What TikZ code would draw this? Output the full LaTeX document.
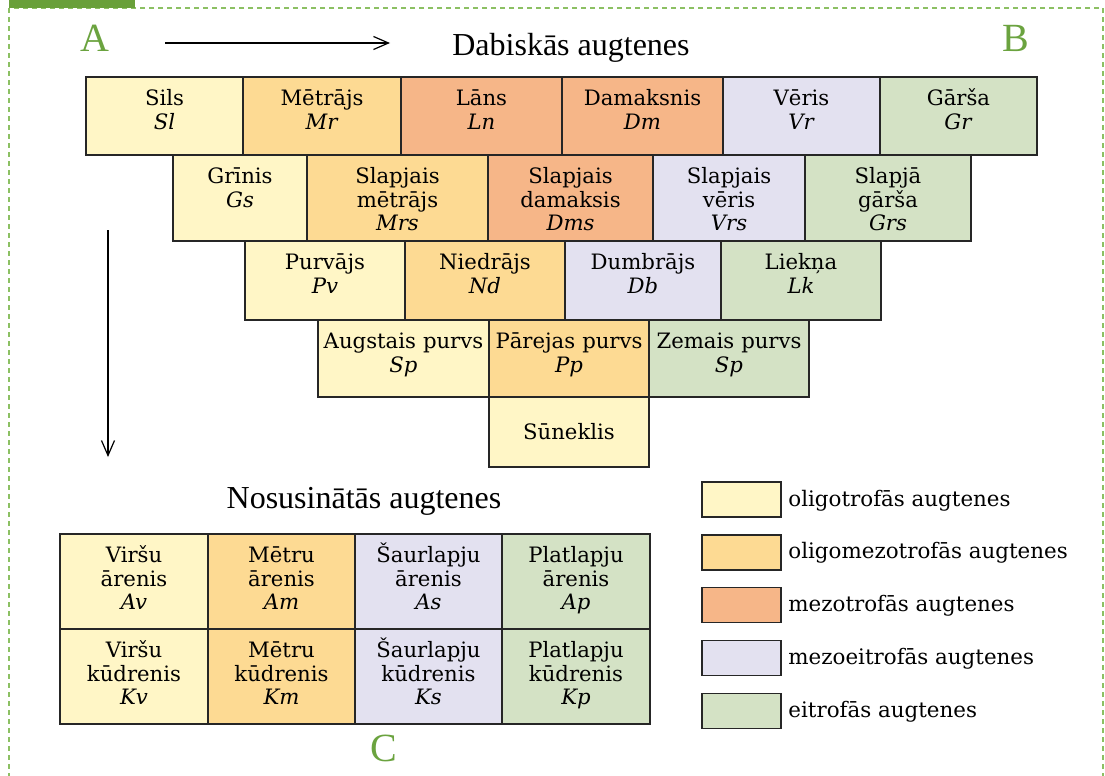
\documentclass[tikz,border=0pt]{standalone}
\usepackage{fontspec}
\setmainfont{DejaVu Serif}
\newfontfamily\titlefont{Liberation Serif}
\usetikzlibrary{positioning,fit,arrows.meta}

\definecolor{oligo}{HTML}{FFF6C6}
\definecolor{oligomezo}{HTML}{FDDA93}
\definecolor{mezo}{HTML}{F6B688}
\definecolor{mezoeu}{HTML}{E3E1F0}
\definecolor{eu}{HTML}{D4E2C5}
\definecolor{lettergreen}{HTML}{6BA33F}
\definecolor{framegreen}{HTML}{8CC063}
\definecolor{tabgreen}{HTML}{69A03A}

\tikzset{
  cell/.style={draw=black!85, line width=0.7pt, fill=#1, inner sep=0pt, outer sep=0pt},
  celltext/.style={anchor=north, inner sep=0pt, text height=0pt, text width=86pt, align=center,
    font=\fontsize{10.6}{11.75}\selectfont, yshift=-14.25pt},
  legtext/.style={anchor=base west, inner sep=0pt, font=\fontsize{10.7}{11.75}\selectfont},
  titletext/.style={anchor=base, inner sep=0pt, font=\titlefont\fontsize{16}{18}\selectfont},
  letter/.style={anchor=base, inner sep=0pt, text=lettergreen, font=\titlefont\fontsize{20}{22}\selectfont},
  flow/.style={line width=0.6pt, -{Straight Barb[length=7.5pt,width=6.5pt]}},
  frame/.style={draw=framegreen, line width=0.7pt, dash pattern=on 2.5pt off 2pt}
}

\begin{document}
\begin{tikzpicture}[x=0.5pt,y=-0.5pt]
    \useasboundingbox (0,0) rectangle (1105,776);
    % frame
    \draw[frame] (9,8) rectangle (1103,800);
    \fill[tabgreen] (9,0) rectangle (135,8);

    % letters and arrows
    \node[letter] (A) at (95,52) {A};
    \node[letter] (B) at (1016,52) {B};
    \node[letter] (C) at (384,761) {C};
    \coordinate (r0) at (165,43);
    \coordinate (r1) at (390,43);
    \draw[flow] (r0) -- (r1);
    \coordinate (d0) at (108,230);
    \coordinate (d1) at (108,457);
    \draw[flow] (d0) -- (d1);

    \node[titletext] (dab) at (571,55) {Dabiskās augtenes};
    \node[titletext] (nos) at (364,508) {Nosusinātās augtenes};

    % natural sites, row 1
    \foreach \id/\xa/\xb/\col/\txt in {
        sils/86/243/oligo/{Sils\\\textit{Sl}},
        metr/243/401/oligomezo/{Mētrājs\\\textit{Mr}},
        lans/401/562/mezo/{Lāns\\\textit{Ln}},
        dama/562/723/mezo/{Damaksnis\\\textit{Dm}},
        veri/723/880/mezoeu/{Vēris\\\textit{Vr}},
        gars/880/1037/eu/{Gārša\\\textit{Gr}}}{
      \node[cell=\col, fit={(\xa,77) (\xb,155)}] (\id) {};
      \node[celltext] (\id-t) at (\id.north) {\txt};
    }
    % row 2
    \foreach \id/\xa/\xb/\col/\txt in {
        grin/173/307/oligo/{Grīnis\\\textit{Gs}},
        slmr/307/488/oligomezo/{Slapjais\\mētrājs\\\textit{Mrs}},
        sldm/488/653/mezo/{Slapjais\\damaksis\\\textit{Dms}},
        slvr/653/805/mezoeu/{Slapjais\\vēris\\\textit{Vrs}},
        slgr/805/971/eu/{Slapjā\\gārša\\\textit{Grs}}}{
      \node[cell=\col, fit={(\xa,155) (\xb,241)}] (\id) {};
      \node[celltext] (\id-t) at (\id.north) {\txt};
    }
    % row 3
    \foreach \id/\xa/\xb/\col/\txt in {
        purv/245/405/oligo/{Purvājs\\\textit{Pv}},
        nied/405/565/oligomezo/{Niedrājs\\\textit{Nd}},
        dumb/565/721/mezoeu/{Dumbrājs\\\textit{Db}},
        liek/721/881/eu/{Liekņa\\\textit{Lk}}}{
      \node[cell=\col, fit={(\xa,241) (\xb,320)}] (\id) {};
      \node[celltext] (\id-t) at (\id.north) {\txt};
    }
    % row 4
    \foreach \id/\xa/\xb/\col/\txt in {
        augs/318/489/oligo/{Augstais purvs\\\textit{Sp}},
        pare/489/649/oligomezo/{Pārejas purvs\\\textit{Pp}},
        zema/649/809/eu/{Zemais purvs\\\textit{Sp}}}{
      \node[cell=\col, fit={(\xa,320) (\xb,397)}] (\id) {};
      \node[celltext] (\id-t) at (\id.north) {\txt};
    }
    \node[cell=oligo, fit={(489,397) (649,467)}] (sune) {};
    \node[font=\fontsize{10.6}{11.75}\selectfont, inner sep=0pt] (sune-t) at (sune.center) {Sūneklis};

    % drained sites
    \foreach \id/\xa/\xb/\col/\txt in {
        avi/60/208/oligo/{Viršu\\ārenis\\\textit{Av}},
        ame/208/355/oligomezo/{Mētru\\ārenis\\\textit{Am}},
        asa/355/502/mezoeu/{Šaurlapju\\ārenis\\\textit{As}},
        apl/502/650/eu/{Platlapju\\ārenis\\\textit{Ap}}}{
      \node[cell=\col, fit={(\xa,534) (\xb,629)}] (\id) {};
      \node[celltext] (\id-t) at (\id.north) {\txt};
    }
    \foreach \id/\xa/\xb/\col/\txt in {
        kvi/60/208/oligo/{Viršu\\kūdrenis\\\textit{Kv}},
        kme/208/355/oligomezo/{Mētru\\kūdrenis\\\textit{Km}},
        ksa/355/502/mezoeu/{Šaurlapju\\kūdrenis\\\textit{Ks}},
        kpl/502/650/eu/{Platlapju\\kūdrenis\\\textit{Kp}}}{
      \node[cell=\col, fit={(\xa,629) (\xb,724)}] (\id) {};
      \node[celltext] (\id-t) at (\id.north) {\txt};
    }

    % legend
    \foreach \i/\col/\txt in {
        0/oligo/oligotrofās augtenes,
        1/oligomezo/oligomezotrofās augtenes,
        2/mezo/mezotrofās augtenes,
        3/mezoeu/mezoeitrofās augtenes,
        4/eu/eitrofās augtenes}{
      \node[cell=\col, fit={(702,{482+52.8*\i}) (781,{517+52.8*\i})}] (leg\i) {};
      \node[legtext] (leg\i-t) at ([xshift=3.5pt,yshift=-3.25pt]leg\i.east) {\txt};
    }
\end{tikzpicture}
\end{document}
